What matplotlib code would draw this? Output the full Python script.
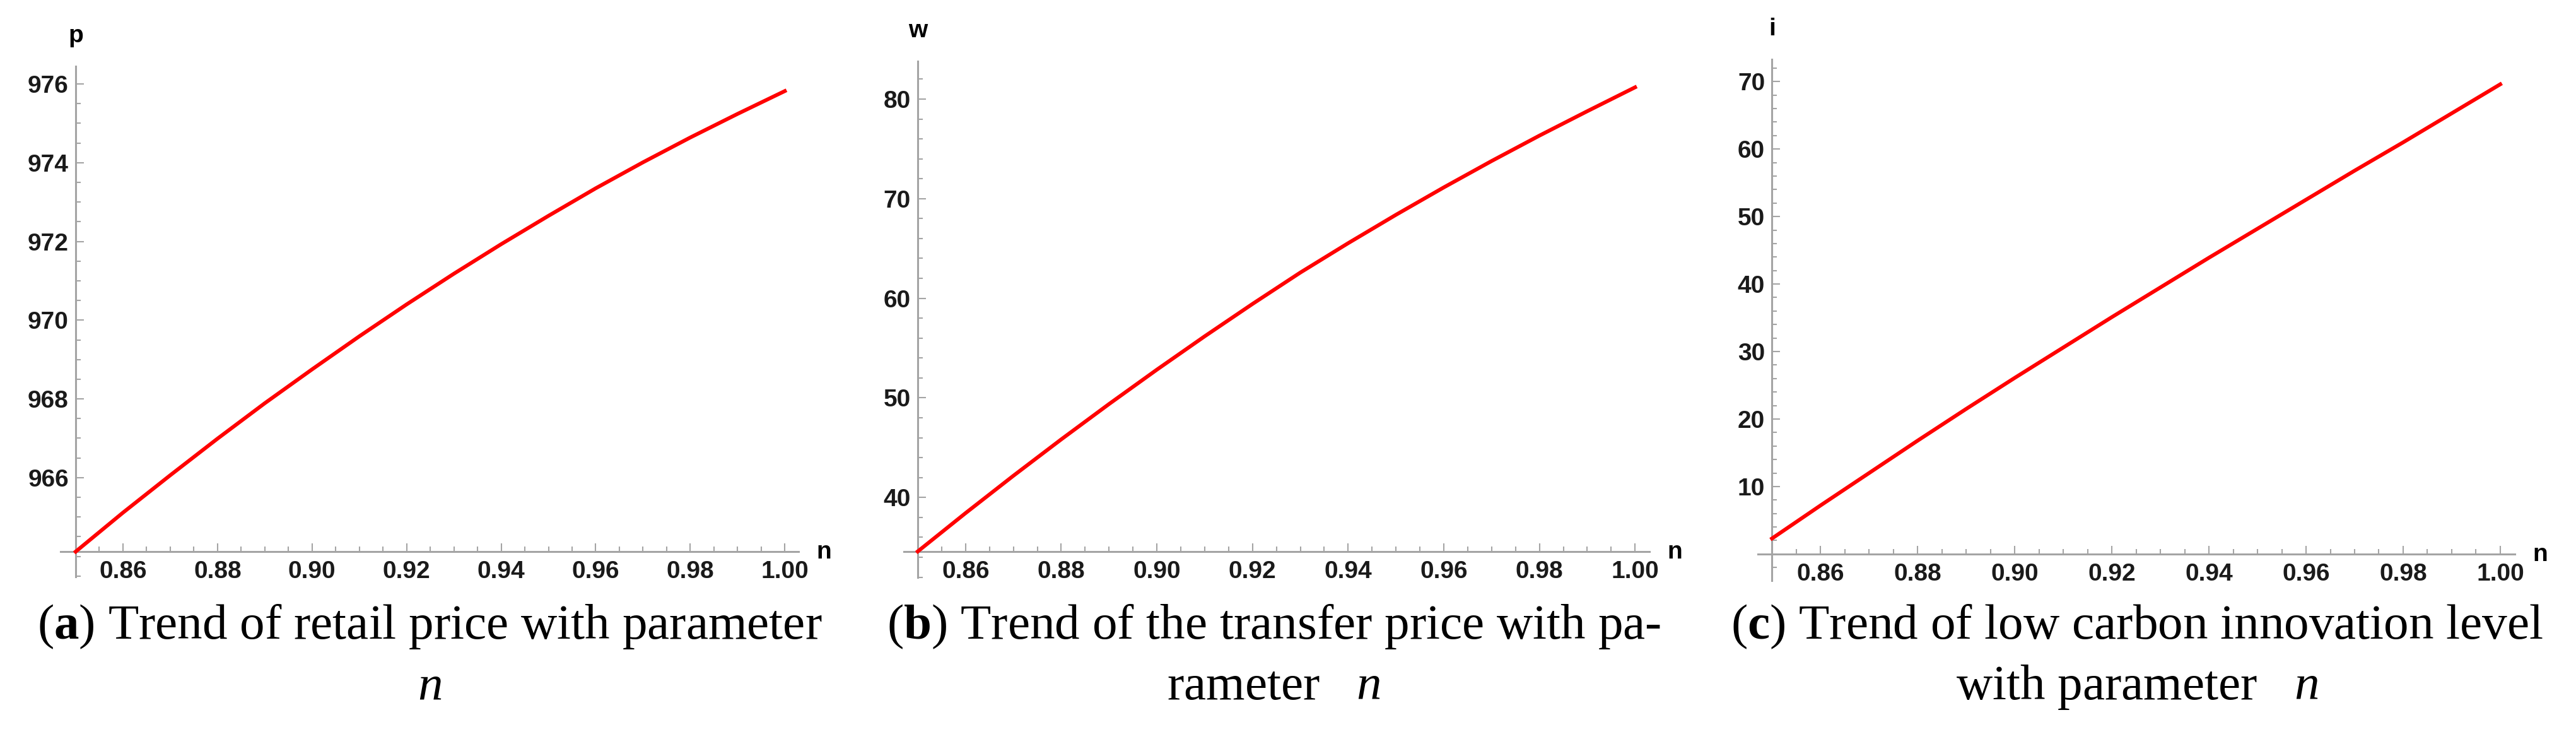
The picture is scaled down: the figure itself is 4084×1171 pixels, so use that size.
import matplotlib
matplotlib.use('Agg')
import matplotlib.pyplot as plt
from matplotlib.ticker import FixedLocator, MultipleLocator, FormatStrFormatter

# parameter n (x axis of all three panels)
n_values = [0.85, 0.86, 0.87, 0.88, 0.89, 0.90, 0.91, 0.92,
            0.93, 0.94, 0.95, 0.96, 0.97, 0.98, 0.99, 1.00]

# (a) retail price p
p_values = [964.12, 965.11, 966.06, 966.99, 967.89, 968.75, 969.59, 970.40,
            971.18, 971.93, 972.65, 973.35, 974.01, 974.64, 975.24, 975.82]
# (b) transfer price w
w_values = [34.58, 38.43, 42.18, 45.83, 49.38, 52.83, 56.18, 59.43,
            62.58, 65.53, 68.38, 71.13, 73.78, 76.33, 78.78, 81.18]
# (c) low carbon innovation level i
i_values = [2.3, 7.2, 12.0, 16.8, 21.5, 26.1, 30.6, 35.1,
            39.5, 43.9, 48.2, 52.5, 56.8, 61.0, 65.3, 69.6]

n_ticks = [0.86, 0.88, 0.90, 0.92, 0.94, 0.96, 0.98, 1.00]
p_ticks = [966, 968, 970, 972, 974, 976]
w_ticks = [40, 50, 60, 70, 80]
i_ticks = [10, 20, 30, 40, 50, 60, 70]

captions = [
    ["(" + r"$\mathbf{a}$" + ") Trend of retail price with parameter", r"$n$"],
    ["(" + r"$\mathbf{b}$" + ") Trend of the transfer price with pa-", "rameter   " + r"$n$"],
    ["(" + r"$\mathbf{c}$" + ") Trend of low carbon innovation level", "with parameter   " + r"$n$"],
]

# figure size in pixels
W, H = 4084, 1171

plt.rcParams['font.family'] = ['Liberation Sans Narrow', 'Liberation Sans']
plt.rcParams['font.weight'] = 'bold'
plt.rcParams['mathtext.fontset'] = 'custom'
plt.rcParams['mathtext.rm'] = 'Liberation Serif:weight=normal'
plt.rcParams['mathtext.bf'] = 'Liberation Serif:weight=bold'
plt.rcParams['mathtext.it'] = 'Liberation Serif:style=italic:weight=normal'

axis_grey = '#a4a4a4'

fig = plt.figure(figsize=(W / 100, H / 100), dpi=100)


def px_rect(x0, x1, y0, y1):
    return [x0 / W, 1 - y1 / H, (x1 - x0) / W, (y1 - y0) / H]


panels = [
    # pixel box, xlim, ylim, where the n axis crosses, data, ticks, minor step, label, caption centre
    ((96, 1266, 105, 914), (0.8468, 1.0029), (963.48, 976.45), p_values[0],
     p_values, p_ticks, 0.5, 'p', 681),
    ((1433, 2615, 97, 915), (0.8471, 1.0030), (31.97, 83.8), w_values[0],
     w_values, w_ticks, 2, 'w', 2020),
    ((2787, 3987, 94, 920), (0.8471, 1.0030), (-3.94, 73.3), 0,
     i_values, i_ticks, 2, 'i', 3388),
]

for k, (box, xlim, ylim, origin, vals, yticks, ystep, ylab, cx) in enumerate(panels):
    ax = fig.add_axes(px_rect(*box))
    ax.plot(n_values, vals, color='#ff0000', lw=4.3, zorder=3, clip_on=False)
    ax.set_xlim(*xlim)
    ax.set_ylim(*ylim)
    ax.patch.set_visible(False)

    # Mathematica style axes crossing at (0.85, origin)
    ax.spines['left'].set_position(('data', 0.85))
    ax.spines['bottom'].set_position(('data', origin))
    ax.spines['top'].set_visible(False)
    ax.spines['right'].set_visible(False)
    for s in ['left', 'bottom']:
        ax.spines[s].set_color(axis_grey)
        ax.spines[s].set_linewidth(2.2)

    ax.xaxis.set_major_locator(FixedLocator(n_ticks))
    ax.xaxis.set_minor_locator(MultipleLocator(0.005))
    ax.xaxis.set_major_formatter(FormatStrFormatter('%.2f'))
    ax.yaxis.set_major_locator(FixedLocator(yticks))
    ax.yaxis.set_minor_locator(MultipleLocator(ystep))
    ax.yaxis.set_major_formatter(FormatStrFormatter('%d'))

    ax.tick_params(which='both', direction='in', color=axis_grey, width=1.5,
                   labelsize=28, labelcolor='#1a1a1a')
    ax.tick_params(which='major', length=9.5)
    ax.tick_params(which='minor', length=5.5)
    ax.tick_params(axis='y', pad=8)
    ax.tick_params(axis='x', pad=10)

    ax.annotate(ylab, xy=(0.85, ylim[1]), xycoords='data', xytext=(0, 48),
                textcoords='offset pixels', ha='center', va='center', fontsize=28)
    ax.annotate('n', xy=(xlim[1], origin), xycoords='data', xytext=(40, -11),
                textcoords='offset pixels', ha='center', va='baseline', fontsize=28)

    line1, line2 = captions[k]
    fig.text(cx / W, 1 - 1012 / H, line1, ha='center', va='baseline',
             fontsize=57, family='Liberation Serif', weight='normal')
    fig.text(cx / W, 1 - 1108 / H, line2, ha='center', va='baseline',
             fontsize=57, family='Liberation Serif', weight='normal')

fig.savefig('out.png', dpi=100)
